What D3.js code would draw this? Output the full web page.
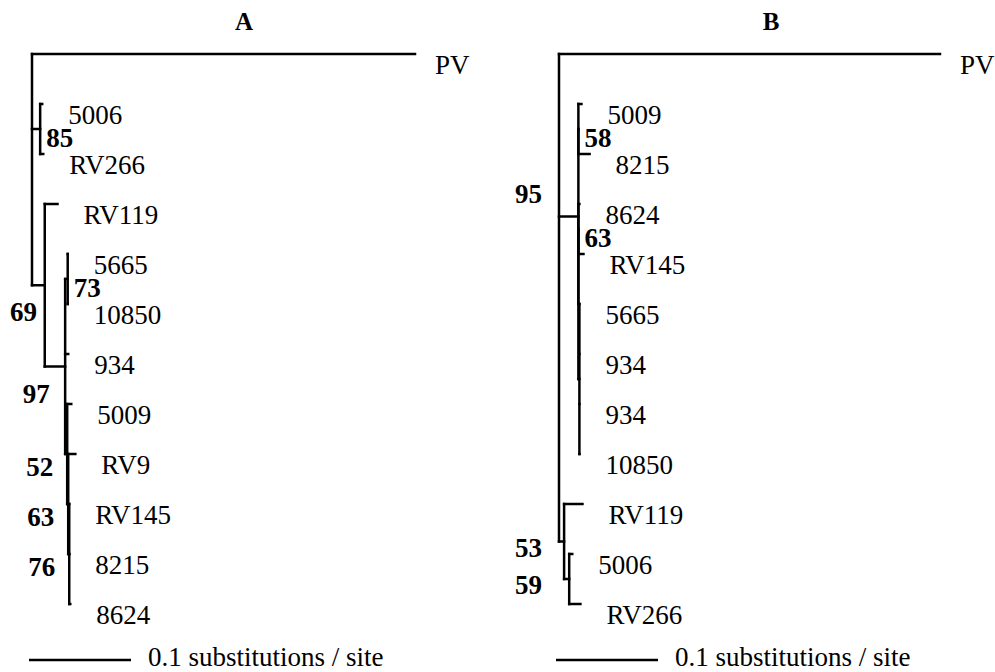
<!DOCTYPE html>
<html>
<head>
<meta charset="utf-8">
<script src="https://cdn.jsdelivr.net/npm/d3@7"></script>
<style>
  body { margin: 0; background: #fff; }
</style>
</head>
<body>
<div id="container"></div>
<script>
/* CONSTANTS AND GLOBALS */
const width = 995,
  height = 672,
  margin = { top: 54, bottom: 68 },
  serif = "'Liberation Serif', 'DejaVu Serif', 'Times New Roman', Times, serif";

/* DATA */
const panelTitles = ["A", "B"];
const scaleLabel = "0.1 substitutions / site";
const scaleValue = 0.1;

// tree A : node id, parent id, label, branch length (subs/site), bootstrap
const idsA      = ["rootA", "PV", "n85", "5006", "RV266", "n69", "RV119", "n97", "n73", "5665", "10850", "934", "n52", "5009", "n63", "RV9", "n76", "RV145", "8215", "8624"];
const parentsA  = ["", "rootA", "rootA", "n85", "n85", "rootA", "n69", "n69", "n97", "n73", "n73", "n97", "n97", "n52", "n52", "n63", "n63", "n76", "n76", "n76"];
const labelsA   = ["", "PV", "", "5006", "RV266", "", "RV119", "", "", "5665", "10850", "934", "", "5009", "", "RV9", "", "RV145", "8215", "8624"];
const lengthsA  = [0, 0.3755, 0.008, 0.002, 0.003, 0.0125, 0.0125, 0.020, 0.0025, 0, 0, 0.003, 0.002, 0.004, 0.001, 0.007, 0.001, 0, 0, 0.001];
const supportA  = [null, null, 85, null, null, 69, null, 97, 73, null, null, null, 52, null, 63, null, 76, null, null, null];

// tree B
const idsB      = ["rootB", "PV", "n95", "n58", "5009", "8215", "nX", "n63", "8624", "RV145", "nY", "5665", "934a", "934b", "10850", "n53", "RV119", "n59", "5006", "RV266"];
const parentsB  = ["", "rootB", "rootB", "n95", "n58", "n58", "n95", "nX", "n63", "n63", "nX", "nY", "nY", "nY", "nY", "rootB", "n53", "n53", "n59", "n59"];
const labelsB   = ["", "PV", "", "", "5009", "8215", "", "", "8624", "RV145", "", "5665", "934", "934", "10850", "", "RV119", "", "5006", "RV266"];
const lengthsB  = [0, 0.3735, 0.019, 0, 0.003, 0.011, 0, 0, 0.001, 0.005, 0.001, 0, 0, 0, 0, 0.005, 0.018, 0.005, 0.003, 0.011];
const supportB  = [null, null, 95, 58, null, null, null, 63, null, null, null, null, null, null, null, 53, null, 59, null, null];

/* LAYOUT CONFIG */
const fontSize = 27;
const panels = [
  { origin: 32,  ids: idsA, parents: parentsA, labels: labelsA, lengths: lengthsA, support: supportA,
    place: { n85: "right", n73: "right", n69: "below", n97: "below", n52: "left", n63: "left", n76: "left" } },
  { origin: 559, ids: idsB, parents: parentsB, labels: labelsB, lengths: lengthsB, support: supportB,
    place: { n58: "right", n63: "right", n95: "outerAbove", n53: "outer", n59: "outer" } }
];

/* SCALES */
const xScale = d3.scaleLinear()
  .domain([0, 0.1])
  .range([0, 102]);

/* HTML ELEMENTS */
const svg = d3.select("#container")
  .append("svg")
  .attr("width", width)
  .attr("height", height)
  .attr("font-family", serif)
  .style("background", "#fff");

panels.forEach((p, pi) => {
  const rows = p.ids.map((id, i) => ({
    id, parent: p.parents[i], label: p.labels[i], len: p.lengths[i], support: p.support[i]
  }));
  const root = d3.stratify().id(d => d.id).parentId(d => d.parent || null)(rows);

  // x from cumulative branch length
  root.eachBefore(n => {
    n.dist = n.parent ? n.parent.dist + n.data.len : 0;
    n.x = p.origin + xScale(n.dist);
  });

  // y : leaves evenly spaced, internal nodes between first and last child
  const leaves = root.leaves();
  const yScale = d3.scalePoint()
    .domain(leaves.map(d => d.id))
    .range([margin.top, height - margin.bottom]);
  root.eachAfter(n => {
    n.y = n.children
      ? (n.children[0].y + n.children[n.children.length - 1].y) / 2
      : yScale(n.id);
  });

  const g = svg.append("g");

  // horizontal branches
  g.selectAll("path.h")
    .data(root.descendants().filter(n => n.parent))
    .join("path")
    .attr("class", "h")
    .attr("d", n => `M${n.parent.x},${n.y}H${n.x}`)
    .attr("stroke", "#000")
    .attr("stroke-width", 2.5)
    .attr("stroke-linecap", "square")
    .attr("fill", "none");

  // vertical connectors
  g.selectAll("path.v")
    .data(root.descendants().filter(n => n.children))
    .join("path")
    .attr("class", "v")
    .attr("d", n => `M${n.x},${n.children[0].y}V${n.children[n.children.length - 1].y}`)
    .attr("stroke", "#000")
    .attr("stroke-width", 2.5)
    .attr("stroke-linecap", "square")
    .attr("fill", "none");

  // tip labels
  g.selectAll("text.tip")
    .data(leaves)
    .join("text")
    .attr("class", "tip")
    .attr("font-family", serif)
    .attr("x", n => n.x + (n.id === "PV" ? 20 : 26))
    .attr("y", n => n.y + 20)
    .attr("font-size", fontSize)
    .text(n => n.data.label);

  // bootstrap values
  const supported = root.descendants().filter(n => n.data.support != null);
  g.selectAll("text.boot")
    .data(supported)
    .join("text")
    .attr("class", "boot")
    .attr("font-family", serif)
    .attr("font-size", fontSize)
    .attr("font-weight", "bold")
    .each(function (n) {
      const where = p.place[n.id];
      const t = d3.select(this);
      if (where === "right") {
        t.attr("x", n.x + 6).attr("y", n.y + 18).attr("text-anchor", "start");
      } else if (where === "below") {
        t.attr("x", n.parent.x + 5).attr("y", n.y + 36).attr("text-anchor", "end");
      } else if (where === "outer") {
        t.attr("x", root.x - 17).attr("y", n.y + 15).attr("text-anchor", "end");
      } else if (where === "outerAbove") {
        t.attr("x", root.x - 17).attr("y", n.y - 14).attr("text-anchor", "end");
      } else {
        t.attr("x", n.x - 14).attr("y", n.y + 22).attr("text-anchor", "end");
      }
    })
    .text(n => n.data.support);

  // panel title
  svg.append("text")
    .attr("font-family", serif)
    .attr("x", p.origin + 212)
    .attr("y", 30)
    .attr("text-anchor", "middle")
    .attr("font-size", 25)
    .attr("font-weight", "bold")
    .text(panelTitles[pi]);

  // scale bar
  const barX = p.origin - 3;
  svg.append("line")
    .attr("x1", barX)
    .attr("x2", barX + xScale(scaleValue))
    .attr("y1", 660)
    .attr("y2", 660)
    .attr("stroke", "#000")
    .attr("stroke-width", 2.5);
  svg.append("text")
    .attr("font-family", serif)
    .attr("x", barX + xScale(scaleValue) + 17)
    .attr("y", 666)
    .attr("font-size", fontSize)
    .text(scaleLabel);
});
</script>
</body>
</html>
